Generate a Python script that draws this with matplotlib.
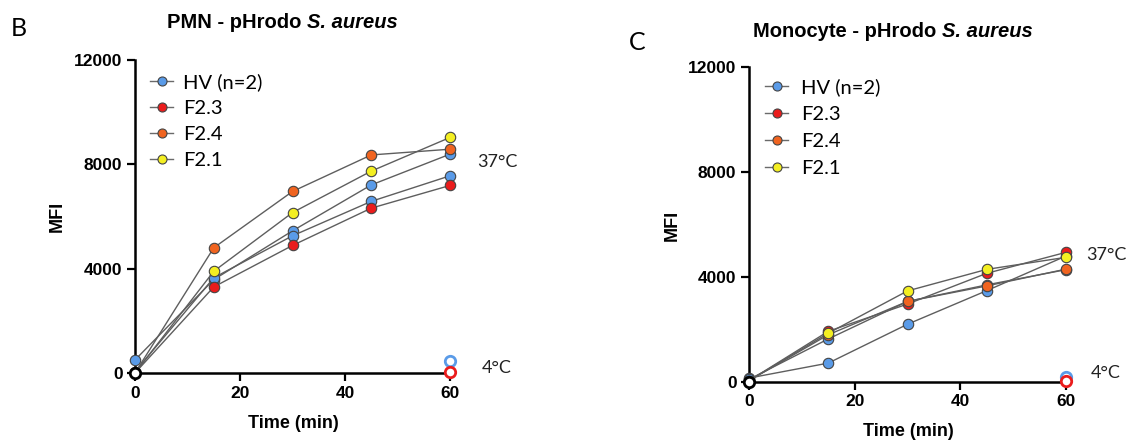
import matplotlib.pyplot as plt
from matplotlib.lines import Line2D

time = [0, 15, 30, 45, 60]

# PMN panel (B)
pmn_hv1 = [500, 3580, 5450, 7210, 8390]
pmn_hv2 = [50, 3650, 5260, 6580, 7560]
pmn_f23 = [0, 3300, 4890, 6320, 7190]
pmn_f24 = [0, 4800, 6960, 8360, 8580]
pmn_f21 = [0, 3900, 6150, 7740, 9030]
pmn_cold_hv = 450
pmn_cold_f23 = 40

# Monocyte panel (C)
mono_hv1 = [150, 720, 2200, 3480, 4800]
mono_hv2 = [100, 1640, 3070, 3700, 4280]
mono_f23 = [50, 1930, 2970, 4140, 4940]
mono_f24 = [50, 1800, 3070, 3660, 4300]
mono_f21 = [50, 1860, 3470, 4290, 4750]
mono_cold_hv = 180
mono_cold_f23 = 40

labels = ['HV (n=2)', 'F2.3', 'F2.4', 'F2.1']
blue = '#5a9be8'
red = '#ea1c1c'
orange = '#f06420'
yellow = '#f4ef22'
colors = [blue, red, orange, yellow]

W, H = 1131, 443
fig = plt.figure(figsize=(W / 100, H / 100), dpi=100)
fig.patch.set_facecolor('white')

calib = 'Lato'


def px(x, y):
    return x / W, 1 - y / H


def draw_panel(rect, series, cold_hv, cold_red, leg_x, leg_y, leg_gap, leg_space):
    ax = fig.add_axes(rect)
    for vals, c in series:
        ax.plot(time, vals, color='#5e5e5e', lw=1.0, marker='o', ms=7.5,
                mfc=c, mec='#444444', mew=0.8, clip_on=False, zorder=3)
    ax.plot([60], [cold_hv], 'o', ms=7.5, mfc='white', mec=blue, mew=2,
            clip_on=False, zorder=4)
    ax.plot([60], [cold_red], 'o', ms=7.5, mfc='white', mec=red, mew=2,
            clip_on=False, zorder=4)
    ax.plot([0], [0], 'o', ms=7.5, mfc='white', mec='black', mew=2,
            clip_on=False, zorder=5)
    ax.set_xlim(0, 60)
    ax.set_ylim(0, 12000)
    ax.set_xticks([0, 20, 40, 60])
    ax.set_yticks([0, 4000, 8000, 12000])
    for s in ['top', 'right']:
        ax.spines[s].set_visible(False)
    for s in ['left', 'bottom']:
        ax.spines[s].set_linewidth(1.8)
    ax.tick_params(width=1.6, length=6, direction='out', pad=3)
    for lab in ax.get_xticklabels() + ax.get_yticklabels():
        lab.set_family('Liberation Sans')
        lab.set_weight('bold')
        lab.set_size(12.5)
    ax.set_facecolor('none')
    # legend
    handles = [Line2D([], [], color='#6a6a6a', lw=1.0, marker='o', ms=6.5,
                      mfc=c, mec='#444444', mew=0.8) for c in colors]
    fx, fy = px(leg_x, leg_y)
    fig.legend(handles, labels, loc='upper left', bbox_to_anchor=(fx, fy),
               frameon=False, prop=dict(family=calib, size=14.5),
               handlelength=1.15, handletextpad=leg_gap, labelspacing=leg_space,
               borderpad=0, borderaxespad=0)
    return ax


draw_panel([135 / W, 70 / H, 315 / W, 313 / H],
           [(pmn_hv1, blue), (pmn_hv2, blue), (pmn_f23, red),
            (pmn_f24, orange), (pmn_f21, yellow)],
           pmn_cold_hv, pmn_cold_f23, 150, 73, 0.5, 0.45)
draw_panel([749 / W, 61 / H, 317 / W, 315 / H],
           [(mono_hv1, blue), (mono_hv2, blue), (mono_f23, red),
            (mono_f24, orange), (mono_f21, yellow)],
           mono_cold_hv, mono_cold_f23, 765, 78, 0.65, 0.5)

# panel letters
fig.text(*px(11, 29), 'B', family=calib, size=18, va='center', ha='left')
fig.text(*px(629, 42), 'C', family=calib, size=18, va='center', ha='left')


def title(x, y, first):
    t1 = fig.text(*px(x, y), first, family='Liberation Sans', weight='bold',
                  size=14.5, ha='left', va='baseline')
    fig.axes[0].annotate('S. aureus', xy=(1, 0), xycoords=t1, family='Liberation Sans',
                         weight='bold', style='italic', size=14.5, ha='left', va='bottom')


title(167, 28, 'PMN - pHrodo ')
title(753, 37, 'Monocyte - pHrodo ')

# axis labels
for x, y in [(57, 216), (672, 225)]:
    fig.text(*px(x, y), 'MFI', family='Liberation Sans', weight='bold', size=13,
             rotation=90, ha='center', va='center')
for x, y in [(293, 423), (908, 432)]:
    fig.text(*px(x, y), 'Time (min)', family='Liberation Sans', weight='bold', size=13,
             ha='center', va='center')

# temperature annotations
for x, y, s in [(477, 162, '37°C'), (482, 368, '4°C'), (1086, 255, '37°C'), (1091, 373, '4°C')]:
    fig.text(*px(x, y), s, family=calib, size=13, ha='left', va='center', color='#222222')

fig.savefig('out.png', dpi=100, facecolor='white')
